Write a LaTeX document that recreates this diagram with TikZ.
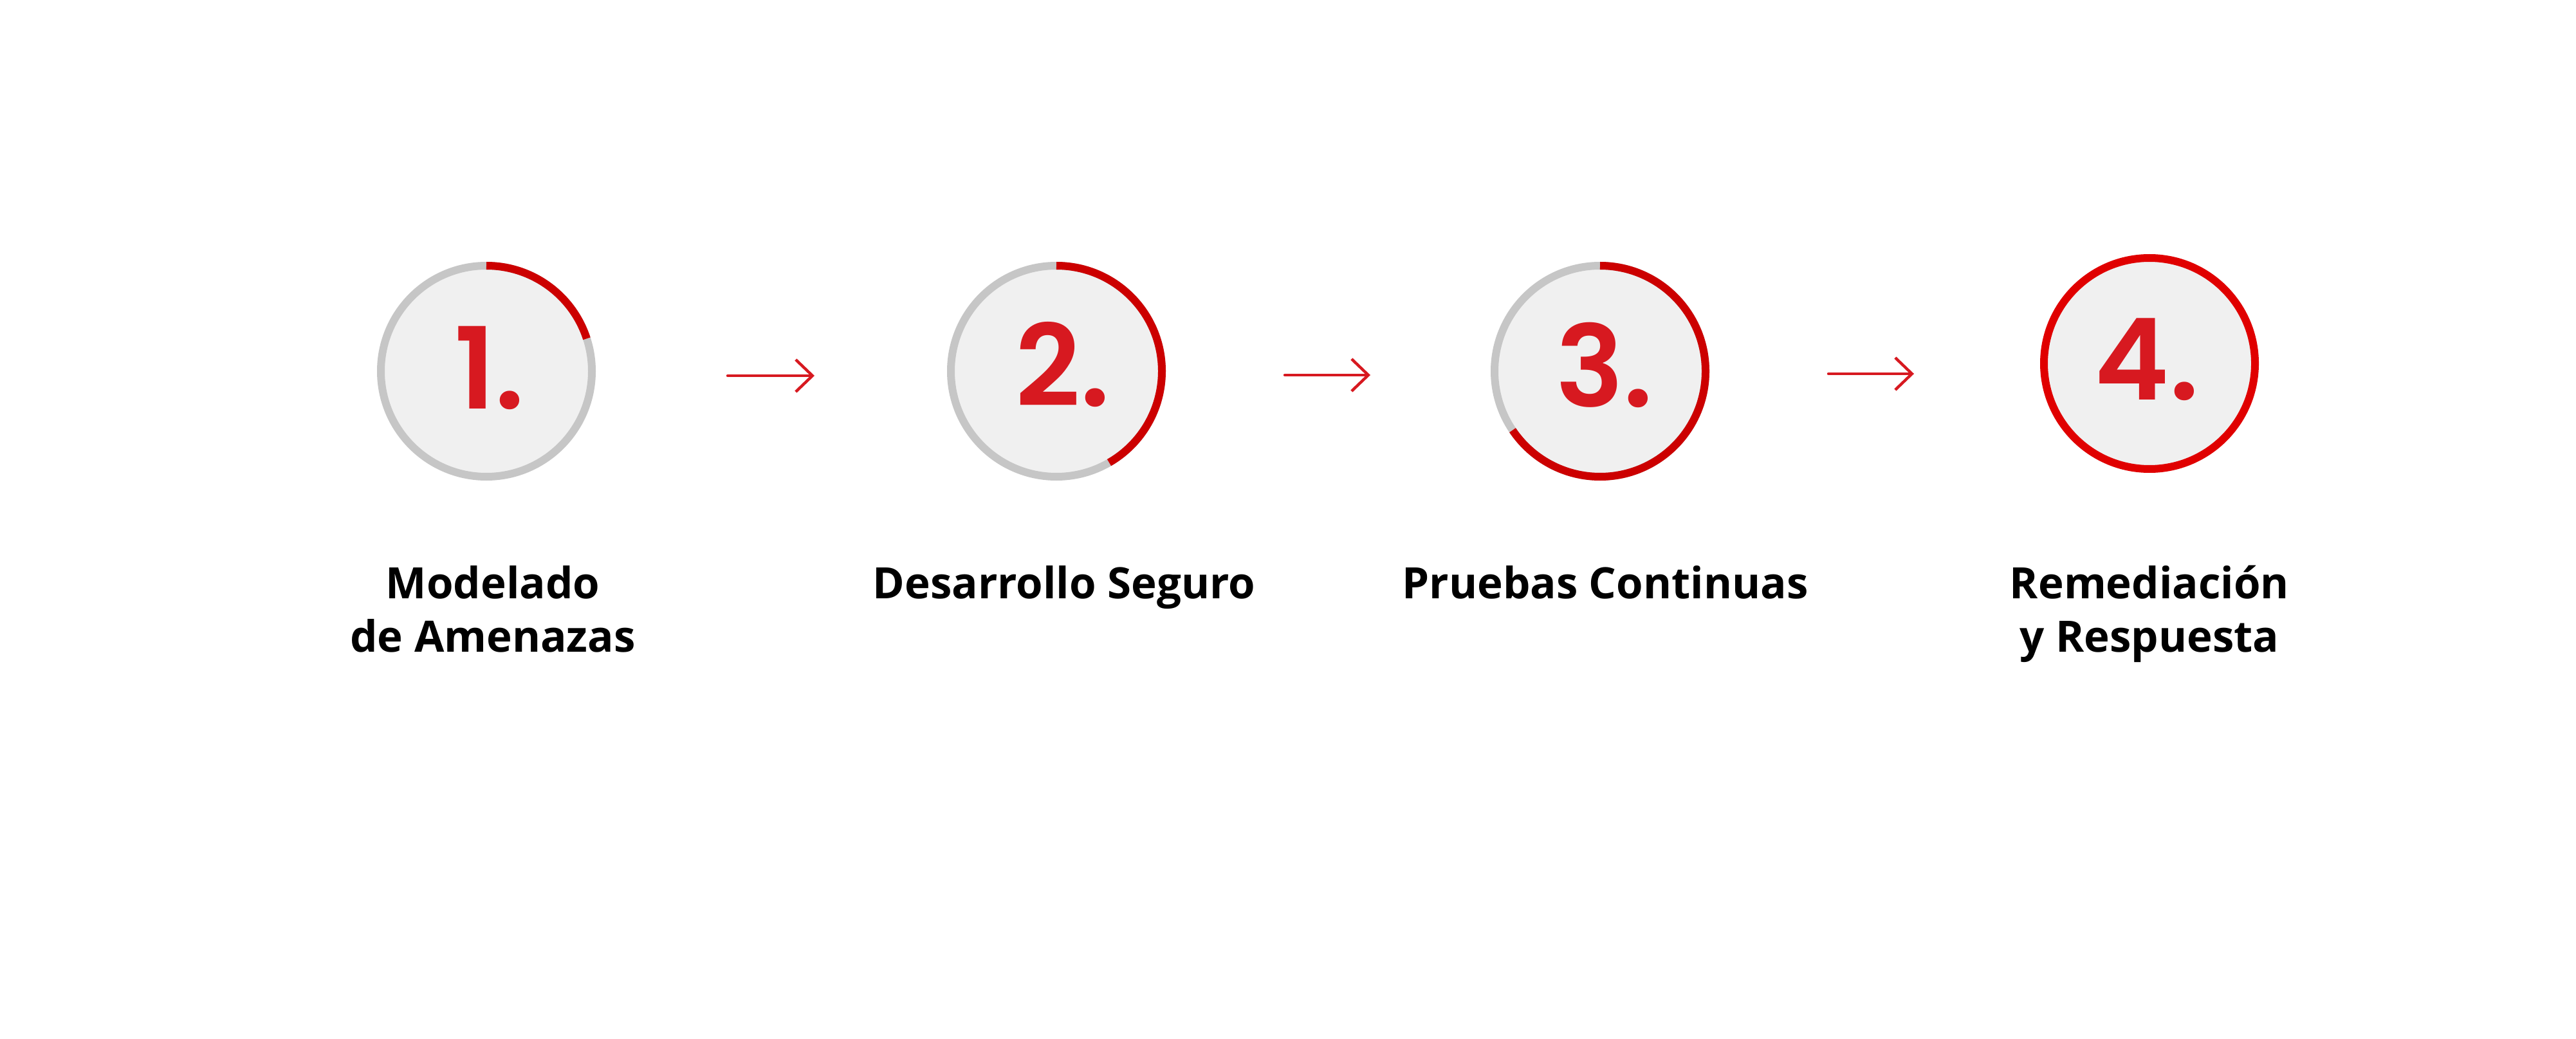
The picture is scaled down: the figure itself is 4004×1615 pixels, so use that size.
\documentclass[tikz,border=0pt]{standalone}
\usepackage{fontspec}
\setmainfont{Open Sans}
\newfontfamily\digitfont{Poppins}[UprightFont=* SemiBold, BoldFont=* SemiBold]
\usetikzlibrary{arrows.meta,calc}
\definecolor{ringgray}{HTML}{C6C6C6}
\definecolor{ringfill}{HTML}{F0F0F0}
\definecolor{arcred}{HTML}{CC0000}
\definecolor{fullred}{HTML}{E00000}
\definecolor{digitred}{HTML}{D71920}
\begin{document}
\begin{tikzpicture}[x=0.25pt,y=-0.25pt,
  ring/.style={circle, draw=ringgray, fill=ringfill, line width=3pt, minimum size=82pt, inner sep=0pt, outer sep=0pt},
  fullring/.style={ring, draw=fullred},
  progress/.style={draw=arcred, line width=3pt},
  digit/.style={anchor=base, text=digitred, font=\digitfont\fontsize{44pt}{44pt}\selectfont, inner sep=0pt},
  caption/.style={anchor=base, align=center, font=\bfseries\fontsize{16.8pt}{20.75pt}\selectfont, inner sep=0pt},
  flow/.style={draw=digitred, line width=1.1pt, line cap=round, -{Straight Barb[length=6.5pt,width=12.5pt]}}]
\useasboundingbox[fill=white] (0,0) rectangle (4004,1615);
% circles
\node[ring] (c1) at (756,577) {};
\node[ring] (c2) at (1642,577) {};
\node[ring] (c3) at (2487,577) {};
\node[fullring] (c4) at (3341,565) {};
% progress arcs
\draw[progress] (c1.90) arc[start angle=90, end angle=18, radius=41pt];
\draw[progress] (c2.90) arc[start angle=90, end angle=-60, radius=41pt];
\draw[progress] (c3.90) arc[start angle=90, end angle=-146, radius=41pt];
% digits
\node[digit] (d1) at (761,635) {1.};
\node[digit] (d2) at (1652,631) {2.};
\node[digit] (d3) at (2494,632) {3.};
\node[digit] (d4) at (3337,622) {4.};
% arrows
\draw[flow, shorten <=52.75pt, shorten >=53pt] ($(c1.east)+(0,7)$) -- ($(c2.west)+(0,7)$);
\draw[flow, shorten <=47.75pt, shorten >=48.25pt] ($(c2.east)+(0,6)$) -- ($(c3.west)+(0,6)$);
\draw[flow, shorten <=47.75pt, shorten >=50.5pt] ($(c3.east)+(0,4)$) -- ($(c3.east -| c4.west)+(0,4)$);
% captions (base anchor = last line)
\node[caption] (t1) at (766,1013) {Modelado\\de Amenazas};
\node[caption] (t2) at (1654,930) {Desarrollo Seguro};
\node[caption] (t3) at (2495,930) {Pruebas Continuas};
\node[caption] (t4) at (3341,1013) {Remediación\\y Respuesta};
\end{tikzpicture}
\end{document}
